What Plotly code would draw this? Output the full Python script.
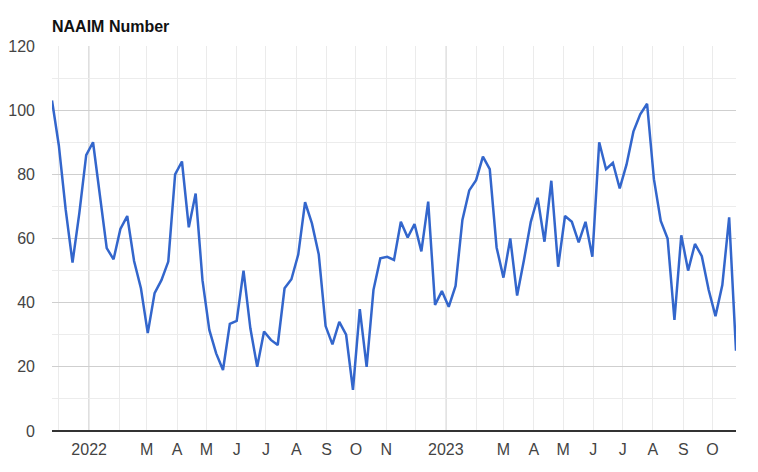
import pandas as pd
import plotly.graph_objects as go

# Weekly NAAIM exposure index readings (Wednesdays), 2021-11-24 .. 2023-10-25
start_date = "2021-11-24"
naaim_values = [
    103.0, 89.0, 69.0, 52.5, 68.0, 86.0, 90.0, 73.0, 57.0, 53.5,
    63.0, 67.0, 53.0, 44.5, 30.5, 43.0, 47.0, 52.8, 80.0, 84.0,
    63.5, 74.0, 47.0, 31.5, 24.2, 19.0, 33.4, 34.3, 50.0, 32.0,
    20.0, 31.0, 28.4, 26.8, 44.5, 47.3, 55.0, 71.3, 64.7, 55.0,
    32.7, 27.0, 34.0, 30.0, 12.8, 38.0, 20.0, 44.0, 53.8, 54.3,
    53.3, 65.2, 60.3, 64.5, 56.0, 71.5, 39.3, 43.6, 38.7, 45.2,
    65.8, 75.0, 78.2, 85.5, 81.6, 57.2, 47.8, 60.0, 42.2, 53.3,
    65.2, 72.7, 59.0, 78.0, 51.2, 67.0, 65.2, 58.8, 65.2, 54.3,
    90.0, 81.6, 83.6, 75.6, 83.1, 93.3, 98.7, 102.0, 78.5, 65.5,
    60.0, 34.6, 61.0, 50.0, 58.3, 54.5, 44.0, 35.8, 45.5, 66.6,
    25.0,
]
dates = pd.date_range(start=start_date, periods=len(naaim_values), freq="7D")

month_ticks = pd.date_range("2021-12-01", "2023-10-01", freq="MS")
month_labels = ["", "2022", "", "M", "A", "M", "J", "J", "A", "S", "O", "N",
                "", "2023", "", "M", "A", "M", "J", "J", "A", "S", "O"]
year_lines = ["2022-01-01", "2023-01-01"]
y_ticks = [0, 20, 40, 60, 80, 100, 120]

FONT = "Liberation Sans, Arial, sans-serif"

# page body has an 8px default margin; figure is sized to fit the 758x472 window
W, H = 750, 464

fig = go.Figure()
fig.add_trace(go.Scatter(
    x=dates, y=naaim_values, mode="lines",
    line=dict(color="#3366CC", width=2.5),
    hoverinfo="x+y", showlegend=False,
))

for d in year_lines:
    fig.add_shape(type="line", xref="x", yref="paper", x0=d, x1=d, y0=0, y1=1,
                  line=dict(color="#cccccc", width=1.5), layer="below")

fig.update_layout(
    width=W, height=H,
    margin=dict(l=44, r=22, t=38, b=41, autoexpand=False),
    paper_bgcolor="white", plot_bgcolor="white",
    font=dict(family=FONT, size=16, color="#444444"),
    title=dict(text="<b>NAAIM Number</b>", font=dict(family=FONT, size=16, color="#111111"),
               xref="container", yref="container", x=44/W, xanchor="left",
               y=1 - 18.8/H, yanchor="middle", automargin=False),
    xaxis=dict(
        type="date", automargin=False,
        range=[dates[0], dates[-1]],
        tickmode="array", tickvals=month_ticks, ticktext=month_labels,
        showgrid=True, gridcolor="#ebebeb", gridwidth=1,
        ticks="", ticklabelstandoff=7,
        showline=False, zeroline=False,
        tickfont=dict(size=16, color="#444444"),
    ),
    yaxis=dict(
        automargin=False,
        range=[0, 120],
        tickmode="array", tickvals=y_ticks,
        showgrid=True, gridcolor="#cfcfcf", gridwidth=1,
        minor=dict(dtick=10, tick0=0, showgrid=True, gridcolor="#ececec", gridwidth=1, ticks=""),
        ticks="", ticklabelstandoff=16,
        zeroline=True, zerolinecolor="#333333", zerolinewidth=2,
        showline=False,
        tickfont=dict(size=16, color="#444444"),
    ),
)

fig.write_html("out.html")
